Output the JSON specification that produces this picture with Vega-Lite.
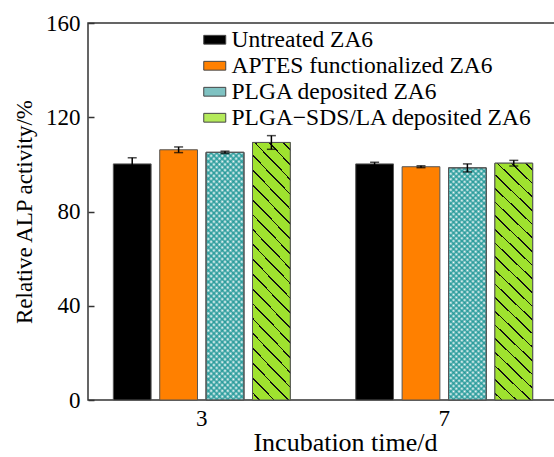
{
  "$schema": "https://vega.github.io/schema/vega-lite/v6.json",
  "width": 470,
  "height": 377,
  "autosize": "none",
  "padding": {"left": 88, "top": 23, "right": 0, "bottom": 57},
  "background": "white",
  "config": {
    "font": "Liberation Serif",
    "view": {"stroke": "#333333", "strokeWidth": 1.5},
    "axis": {"labelFont": "Liberation Serif", "titleFont": "Liberation Serif", "labelColor": "#000", "titleColor": "#000", "titleFontWeight": "normal", "labelFontSize": 23, "titleFontSize": 23, "grid": false, "domain": false}
  },
  "data": {"values": [
    {"time": "3", "group": "Untreated ZA6", "mean": 100.2, "lo": 97.6, "hi": 102.8},
    {"time": "3", "group": "APTES functionalized ZA6", "mean": 106.2, "lo": 105.0, "hi": 107.4},
    {"time": "3", "group": "PLGA deposited ZA6", "mean": 105.1, "lo": 104.6, "hi": 105.6},
    {"time": "3", "group": "PLGA−SDS/LA deposited ZA6", "mean": 109.3, "lo": 106.4, "hi": 112.2},
    {"time": "7", "group": "Untreated ZA6", "mean": 100.2, "lo": 99.5, "hi": 100.9},
    {"time": "7", "group": "APTES functionalized ZA6", "mean": 99.0, "lo": 98.6, "hi": 99.4},
    {"time": "7", "group": "PLGA deposited ZA6", "mean": 98.5, "lo": 96.8, "hi": 100.2},
    {"time": "7", "group": "PLGA−SDS/LA deposited ZA6", "mean": 100.5, "lo": 99.3, "hi": 101.7}
  ]},
  "encoding": {
    "x": {"field": "time", "type": "nominal", "title": "Incubation time/d",
      "scale": {"paddingInner": 0.27, "paddingOuter": 0.1045},
      "axis": {"ticks": false, "labelAngle": 0, "labelPadding": 7, "titlePadding": -1, "titleFontSize": 26, "titleX": 257}},
    "xOffset": {"field": "group", "type": "nominal",
      "scale": {"domain": ["Untreated ZA6", "APTES functionalized ZA6", "PLGA deposited ZA6", "PLGA−SDS/LA deposited ZA6"], "paddingInner": 0.186, "paddingOuter": 0}}
  },
  "layer": [
    {
      "mark": {"type": "bar", "stroke": "#555555", "strokeWidth": 1},
      "encoding": {
        "y": {"field": "mean", "type": "quantitative", "title": "Relative ALP activity/%",
          "scale": {"domain": [0, 160]},
          "axis": {"values": [0, 40, 80, 120, 160], "tickSize": -6, "tickWidth": 1.5, "tickColor": "#333333", "labelPadding": 14, "titlePadding": 9}},
        "fill": {"field": "group", "type": "nominal",
          "scale": {"domain": ["Untreated ZA6", "APTES functionalized ZA6", "PLGA deposited ZA6", "PLGA−SDS/LA deposited ZA6"], "range": ["#000000", "#ff8000", "#7fc2c2", "#b4ea5a"]},
          "legend": {"orient": "none", "legendX": 115, "legendY": 5, "title": null, "padding": 0,
            "labelFont": "Liberation Serif", "labelFontSize": 23.5, "labelColor": "#000", "labelLimit": 400, "labelOffset": 5, "labelBaseline": "middle",
            "symbolType": "M-1,-0.4H1V0.4H-1Z", "symbolSize": 484, "symbolStrokeColor": "#444444", "symbolStrokeWidth": 1, "symbolOpacity": 1, "rowPadding": 1}}
      }
    },
    {
      "transform": [{"filter": "datum.group === 'PLGA deposited ZA6'"}],
      "mark": {"type": "bar", "stroke": "#555555", "strokeWidth": 1, "fill": {"gradient": "linear", "x1": 0, "y1": 1, "x2": 0.1776, "y2": -0.1295, "stops": [
        {"offset":0,"color":"#3aa3a3"},{"offset":0.01,"color":"#ffffff"},{"offset":0.02,"color":"#3aa3a3"},{"offset":0.03,"color":"#ffffff"},{"offset":0.04,"color":"#3aa3a3"},{"offset":0.05,"color":"#ffffff"},{"offset":0.06,"color":"#3aa3a3"},{"offset":0.07,"color":"#ffffff"},{"offset":0.08,"color":"#3aa3a3"},{"offset":0.09,"color":"#ffffff"},
        {"offset":0.1,"color":"#3aa3a3"},{"offset":0.11,"color":"#ffffff"},{"offset":0.12,"color":"#3aa3a3"},{"offset":0.13,"color":"#ffffff"},{"offset":0.14,"color":"#3aa3a3"},{"offset":0.15,"color":"#ffffff"},{"offset":0.16,"color":"#3aa3a3"},{"offset":0.17,"color":"#ffffff"},{"offset":0.18,"color":"#3aa3a3"},{"offset":0.19,"color":"#ffffff"},
        {"offset":0.2,"color":"#3aa3a3"},{"offset":0.21,"color":"#ffffff"},{"offset":0.22,"color":"#3aa3a3"},{"offset":0.23,"color":"#ffffff"},{"offset":0.24,"color":"#3aa3a3"},{"offset":0.25,"color":"#ffffff"},{"offset":0.26,"color":"#3aa3a3"},{"offset":0.27,"color":"#ffffff"},{"offset":0.28,"color":"#3aa3a3"},{"offset":0.29,"color":"#ffffff"},
        {"offset":0.3,"color":"#3aa3a3"},{"offset":0.31,"color":"#ffffff"},{"offset":0.32,"color":"#3aa3a3"},{"offset":0.33,"color":"#ffffff"},{"offset":0.34,"color":"#3aa3a3"},{"offset":0.35,"color":"#ffffff"},{"offset":0.36,"color":"#3aa3a3"},{"offset":0.37,"color":"#ffffff"},{"offset":0.38,"color":"#3aa3a3"},{"offset":0.39,"color":"#ffffff"},
        {"offset":0.4,"color":"#3aa3a3"},{"offset":0.41,"color":"#ffffff"},{"offset":0.42,"color":"#3aa3a3"},{"offset":0.43,"color":"#ffffff"},{"offset":0.44,"color":"#3aa3a3"},{"offset":0.45,"color":"#ffffff"},{"offset":0.46,"color":"#3aa3a3"},{"offset":0.47,"color":"#ffffff"},{"offset":0.48,"color":"#3aa3a3"},{"offset":0.49,"color":"#ffffff"},
        {"offset":0.5,"color":"#3aa3a3"},{"offset":0.51,"color":"#ffffff"},{"offset":0.52,"color":"#3aa3a3"},{"offset":0.53,"color":"#ffffff"},{"offset":0.54,"color":"#3aa3a3"},{"offset":0.55,"color":"#ffffff"},{"offset":0.56,"color":"#3aa3a3"},{"offset":0.57,"color":"#ffffff"},{"offset":0.58,"color":"#3aa3a3"},{"offset":0.59,"color":"#ffffff"},
        {"offset":0.6,"color":"#3aa3a3"},{"offset":0.61,"color":"#ffffff"},{"offset":0.62,"color":"#3aa3a3"},{"offset":0.63,"color":"#ffffff"},{"offset":0.64,"color":"#3aa3a3"},{"offset":0.65,"color":"#ffffff"},{"offset":0.66,"color":"#3aa3a3"},{"offset":0.67,"color":"#ffffff"},{"offset":0.68,"color":"#3aa3a3"},{"offset":0.69,"color":"#ffffff"},
        {"offset":0.7,"color":"#3aa3a3"},{"offset":0.71,"color":"#ffffff"},{"offset":0.72,"color":"#3aa3a3"},{"offset":0.73,"color":"#ffffff"},{"offset":0.74,"color":"#3aa3a3"},{"offset":0.75,"color":"#ffffff"},{"offset":0.76,"color":"#3aa3a3"},{"offset":0.77,"color":"#ffffff"},{"offset":0.78,"color":"#3aa3a3"},{"offset":0.79,"color":"#ffffff"},
        {"offset":0.8,"color":"#3aa3a3"},{"offset":0.81,"color":"#ffffff"},{"offset":0.82,"color":"#3aa3a3"},{"offset":0.83,"color":"#ffffff"},{"offset":0.84,"color":"#3aa3a3"},{"offset":0.85,"color":"#ffffff"},{"offset":0.86,"color":"#3aa3a3"},{"offset":0.87,"color":"#ffffff"},{"offset":0.88,"color":"#3aa3a3"},{"offset":0.89,"color":"#ffffff"},
        {"offset":0.9,"color":"#3aa3a3"},{"offset":0.91,"color":"#ffffff"},{"offset":0.92,"color":"#3aa3a3"},{"offset":0.93,"color":"#ffffff"},{"offset":0.94,"color":"#3aa3a3"},{"offset":0.95,"color":"#ffffff"},{"offset":0.96,"color":"#3aa3a3"},{"offset":0.97,"color":"#ffffff"},{"offset":0.98,"color":"#3aa3a3"},{"offset":0.99,"color":"#ffffff"},
        {"offset":1,"color":"#3aa3a3"}
      ]}},
      "encoding": {"y": {"field": "mean", "type": "quantitative"}}
    },
    {
      "transform": [{"filter": "datum.group === 'PLGA deposited ZA6'"}],
      "mark": {"type": "bar", "stroke": "#555555", "strokeWidth": 1, "fill": {"gradient": "linear", "x1": 0, "y1": 0, "x2": 0.1776, "y2": 1.1295, "stops": [
        {"offset":0,"color":"rgba(30,150,150,0.85)"},{"offset":0.01,"color":"rgba(30,150,150,0)"},{"offset":0.02,"color":"rgba(30,150,150,0.85)"},{"offset":0.03,"color":"rgba(30,150,150,0)"},{"offset":0.04,"color":"rgba(30,150,150,0.85)"},{"offset":0.05,"color":"rgba(30,150,150,0)"},{"offset":0.06,"color":"rgba(30,150,150,0.85)"},{"offset":0.07,"color":"rgba(30,150,150,0)"},{"offset":0.08,"color":"rgba(30,150,150,0.85)"},{"offset":0.09,"color":"rgba(30,150,150,0)"},
        {"offset":0.1,"color":"rgba(30,150,150,0.85)"},{"offset":0.11,"color":"rgba(30,150,150,0)"},{"offset":0.12,"color":"rgba(30,150,150,0.85)"},{"offset":0.13,"color":"rgba(30,150,150,0)"},{"offset":0.14,"color":"rgba(30,150,150,0.85)"},{"offset":0.15,"color":"rgba(30,150,150,0)"},{"offset":0.16,"color":"rgba(30,150,150,0.85)"},{"offset":0.17,"color":"rgba(30,150,150,0)"},{"offset":0.18,"color":"rgba(30,150,150,0.85)"},{"offset":0.19,"color":"rgba(30,150,150,0)"},
        {"offset":0.2,"color":"rgba(30,150,150,0.85)"},{"offset":0.21,"color":"rgba(30,150,150,0)"},{"offset":0.22,"color":"rgba(30,150,150,0.85)"},{"offset":0.23,"color":"rgba(30,150,150,0)"},{"offset":0.24,"color":"rgba(30,150,150,0.85)"},{"offset":0.25,"color":"rgba(30,150,150,0)"},{"offset":0.26,"color":"rgba(30,150,150,0.85)"},{"offset":0.27,"color":"rgba(30,150,150,0)"},{"offset":0.28,"color":"rgba(30,150,150,0.85)"},{"offset":0.29,"color":"rgba(30,150,150,0)"},
        {"offset":0.3,"color":"rgba(30,150,150,0.85)"},{"offset":0.31,"color":"rgba(30,150,150,0)"},{"offset":0.32,"color":"rgba(30,150,150,0.85)"},{"offset":0.33,"color":"rgba(30,150,150,0)"},{"offset":0.34,"color":"rgba(30,150,150,0.85)"},{"offset":0.35,"color":"rgba(30,150,150,0)"},{"offset":0.36,"color":"rgba(30,150,150,0.85)"},{"offset":0.37,"color":"rgba(30,150,150,0)"},{"offset":0.38,"color":"rgba(30,150,150,0.85)"},{"offset":0.39,"color":"rgba(30,150,150,0)"},
        {"offset":0.4,"color":"rgba(30,150,150,0.85)"},{"offset":0.41,"color":"rgba(30,150,150,0)"},{"offset":0.42,"color":"rgba(30,150,150,0.85)"},{"offset":0.43,"color":"rgba(30,150,150,0)"},{"offset":0.44,"color":"rgba(30,150,150,0.85)"},{"offset":0.45,"color":"rgba(30,150,150,0)"},{"offset":0.46,"color":"rgba(30,150,150,0.85)"},{"offset":0.47,"color":"rgba(30,150,150,0)"},{"offset":0.48,"color":"rgba(30,150,150,0.85)"},{"offset":0.49,"color":"rgba(30,150,150,0)"},
        {"offset":0.5,"color":"rgba(30,150,150,0.85)"},{"offset":0.51,"color":"rgba(30,150,150,0)"},{"offset":0.52,"color":"rgba(30,150,150,0.85)"},{"offset":0.53,"color":"rgba(30,150,150,0)"},{"offset":0.54,"color":"rgba(30,150,150,0.85)"},{"offset":0.55,"color":"rgba(30,150,150,0)"},{"offset":0.56,"color":"rgba(30,150,150,0.85)"},{"offset":0.57,"color":"rgba(30,150,150,0)"},{"offset":0.58,"color":"rgba(30,150,150,0.85)"},{"offset":0.59,"color":"rgba(30,150,150,0)"},
        {"offset":0.6,"color":"rgba(30,150,150,0.85)"},{"offset":0.61,"color":"rgba(30,150,150,0)"},{"offset":0.62,"color":"rgba(30,150,150,0.85)"},{"offset":0.63,"color":"rgba(30,150,150,0)"},{"offset":0.64,"color":"rgba(30,150,150,0.85)"},{"offset":0.65,"color":"rgba(30,150,150,0)"},{"offset":0.66,"color":"rgba(30,150,150,0.85)"},{"offset":0.67,"color":"rgba(30,150,150,0)"},{"offset":0.68,"color":"rgba(30,150,150,0.85)"},{"offset":0.69,"color":"rgba(30,150,150,0)"},
        {"offset":0.7,"color":"rgba(30,150,150,0.85)"},{"offset":0.71,"color":"rgba(30,150,150,0)"},{"offset":0.72,"color":"rgba(30,150,150,0.85)"},{"offset":0.73,"color":"rgba(30,150,150,0)"},{"offset":0.74,"color":"rgba(30,150,150,0.85)"},{"offset":0.75,"color":"rgba(30,150,150,0)"},{"offset":0.76,"color":"rgba(30,150,150,0.85)"},{"offset":0.77,"color":"rgba(30,150,150,0)"},{"offset":0.78,"color":"rgba(30,150,150,0.85)"},{"offset":0.79,"color":"rgba(30,150,150,0)"},
        {"offset":0.8,"color":"rgba(30,150,150,0.85)"},{"offset":0.81,"color":"rgba(30,150,150,0)"},{"offset":0.82,"color":"rgba(30,150,150,0.85)"},{"offset":0.83,"color":"rgba(30,150,150,0)"},{"offset":0.84,"color":"rgba(30,150,150,0.85)"},{"offset":0.85,"color":"rgba(30,150,150,0)"},{"offset":0.86,"color":"rgba(30,150,150,0.85)"},{"offset":0.87,"color":"rgba(30,150,150,0)"},{"offset":0.88,"color":"rgba(30,150,150,0.85)"},{"offset":0.89,"color":"rgba(30,150,150,0)"},
        {"offset":0.9,"color":"rgba(30,150,150,0.85)"},{"offset":0.91,"color":"rgba(30,150,150,0)"},{"offset":0.92,"color":"rgba(30,150,150,0.85)"},{"offset":0.93,"color":"rgba(30,150,150,0)"},{"offset":0.94,"color":"rgba(30,150,150,0.85)"},{"offset":0.95,"color":"rgba(30,150,150,0)"},{"offset":0.96,"color":"rgba(30,150,150,0.85)"},{"offset":0.97,"color":"rgba(30,150,150,0)"},{"offset":0.98,"color":"rgba(30,150,150,0.85)"},{"offset":0.99,"color":"rgba(30,150,150,0)"},
        {"offset":1,"color":"rgba(30,150,150,0.85)"}
      ]}},
      "encoding": {"y": {"field": "mean", "type": "quantitative"}}
    },
    {
      "transform": [{"filter": "datum.group === 'PLGA−SDS/LA deposited ZA6'"}],
      "mark": {"type": "bar", "stroke": "#555555", "strokeWidth": 1, "fill": {"gradient": "linear", "x1": 0, "y1": 1, "x2": 0.172, "y2": -0.1266, "stops": [
        {"offset":0,"color":"#9fe22f"},
        {"offset":0.022,"color":"#9fe22f"},{"offset":0.022,"color":"#111"},{"offset":0.028,"color":"#111"},{"offset":0.028,"color":"#9fe22f"},
        {"offset":0.072,"color":"#9fe22f"},{"offset":0.072,"color":"#111"},{"offset":0.078,"color":"#111"},{"offset":0.078,"color":"#9fe22f"},
        {"offset":0.122,"color":"#9fe22f"},{"offset":0.122,"color":"#111"},{"offset":0.128,"color":"#111"},{"offset":0.128,"color":"#9fe22f"},
        {"offset":0.172,"color":"#9fe22f"},{"offset":0.172,"color":"#111"},{"offset":0.178,"color":"#111"},{"offset":0.178,"color":"#9fe22f"},
        {"offset":0.222,"color":"#9fe22f"},{"offset":0.222,"color":"#111"},{"offset":0.228,"color":"#111"},{"offset":0.228,"color":"#9fe22f"},
        {"offset":0.272,"color":"#9fe22f"},{"offset":0.272,"color":"#111"},{"offset":0.278,"color":"#111"},{"offset":0.278,"color":"#9fe22f"},
        {"offset":0.322,"color":"#9fe22f"},{"offset":0.322,"color":"#111"},{"offset":0.328,"color":"#111"},{"offset":0.328,"color":"#9fe22f"},
        {"offset":0.372,"color":"#9fe22f"},{"offset":0.372,"color":"#111"},{"offset":0.378,"color":"#111"},{"offset":0.378,"color":"#9fe22f"},
        {"offset":0.422,"color":"#9fe22f"},{"offset":0.422,"color":"#111"},{"offset":0.428,"color":"#111"},{"offset":0.428,"color":"#9fe22f"},
        {"offset":0.472,"color":"#9fe22f"},{"offset":0.472,"color":"#111"},{"offset":0.478,"color":"#111"},{"offset":0.478,"color":"#9fe22f"},
        {"offset":0.522,"color":"#9fe22f"},{"offset":0.522,"color":"#111"},{"offset":0.528,"color":"#111"},{"offset":0.528,"color":"#9fe22f"},
        {"offset":0.572,"color":"#9fe22f"},{"offset":0.572,"color":"#111"},{"offset":0.578,"color":"#111"},{"offset":0.578,"color":"#9fe22f"},
        {"offset":0.622,"color":"#9fe22f"},{"offset":0.622,"color":"#111"},{"offset":0.628,"color":"#111"},{"offset":0.628,"color":"#9fe22f"},
        {"offset":0.672,"color":"#9fe22f"},{"offset":0.672,"color":"#111"},{"offset":0.678,"color":"#111"},{"offset":0.678,"color":"#9fe22f"},
        {"offset":0.722,"color":"#9fe22f"},{"offset":0.722,"color":"#111"},{"offset":0.728,"color":"#111"},{"offset":0.728,"color":"#9fe22f"},
        {"offset":0.772,"color":"#9fe22f"},{"offset":0.772,"color":"#111"},{"offset":0.778,"color":"#111"},{"offset":0.778,"color":"#9fe22f"},
        {"offset":0.822,"color":"#9fe22f"},{"offset":0.822,"color":"#111"},{"offset":0.828,"color":"#111"},{"offset":0.828,"color":"#9fe22f"},
        {"offset":0.872,"color":"#9fe22f"},{"offset":0.872,"color":"#111"},{"offset":0.878,"color":"#111"},{"offset":0.878,"color":"#9fe22f"},
        {"offset":0.922,"color":"#9fe22f"},{"offset":0.922,"color":"#111"},{"offset":0.928,"color":"#111"},{"offset":0.928,"color":"#9fe22f"},
        {"offset":0.972,"color":"#9fe22f"},{"offset":0.972,"color":"#111"},{"offset":0.978,"color":"#111"},{"offset":0.978,"color":"#9fe22f"},
        {"offset":1,"color":"#9fe22f"}
      ]}},
      "encoding": {"y": {"field": "mean", "type": "quantitative"}}
    },
    {
      "mark": {"type": "rule", "color": "#000000", "strokeWidth": 1.5},
      "encoding": {"y": {"field": "lo", "type": "quantitative"}, "y2": {"field": "hi"}}
    },
    {
      "mark": {"type": "tick", "color": "#000000", "thickness": 1.5, "size": 9, "orient": "horizontal"},
      "encoding": {"y": {"field": "hi", "type": "quantitative"}}
    },
    {
      "mark": {"type": "tick", "color": "#000000", "thickness": 1.5, "size": 9, "orient": "horizontal"},
      "encoding": {"y": {"field": "lo", "type": "quantitative"}}
    }
  ]
}
